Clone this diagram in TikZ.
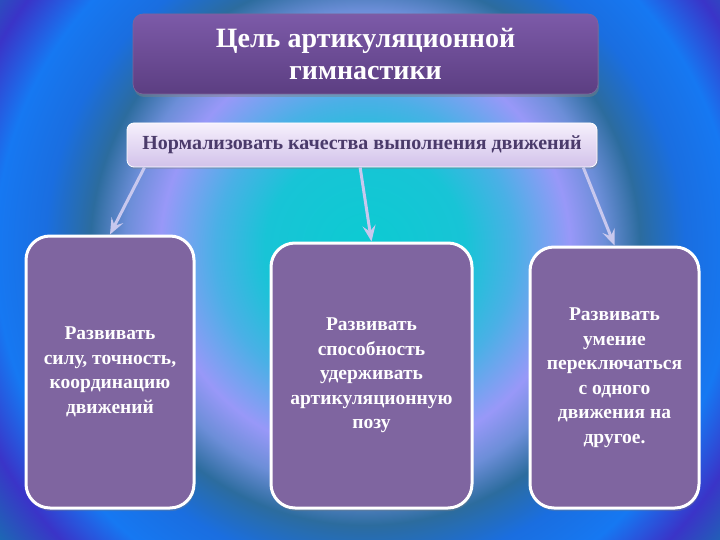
\documentclass[tikz,border=0pt]{standalone}
\usepackage{fontspec}
\setmainfont{Liberation Serif}
\usetikzlibrary{arrows.meta,shadows,calc}
\definecolor{bgA}{HTML}{0CCBD2}
\definecolor{bgB}{HTML}{18C4D6}
\definecolor{bgC}{HTML}{4AB0E6}
\definecolor{bgD}{HTML}{9898F8}
\definecolor{bgE}{HTML}{6C8ED8}
\definecolor{bgF}{HTML}{2C6C9E}
\definecolor{bgG}{HTML}{1A6EE0}
\definecolor{bgH}{HTML}{1678F2}
\definecolor{bgI}{HTML}{3A34C8}
\definecolor{bgJ}{HTML}{1A6CB2}
\definecolor{titleTop}{HTML}{7C5AA8}
\definecolor{titleBot}{HTML}{5C3E82}
\definecolor{normTop}{HTML}{F6F0FC}
\definecolor{normBot}{HTML}{D2C2EA}
\definecolor{normText}{HTML}{4B3B6B}
\definecolor{cardFill}{HTML}{7F65A0}
\definecolor{arrowCol}{HTML}{C8C8EE}
\pgfdeclareradialshading{bgshade}{\pgfpoint{0bp}{0bp}}{%
color(0bp)=(bgA); color(5bp)=(bgB); color(7.5bp)=(bgC); color(10.25bp)=(bgD);
color(12bp)=(bgE); color(13.75bp)=(bgF); color(16bp)=(bgG); color(18.5bp)=(bgH);
color(21bp)=(bgI); color(23.5bp)=(bgJ); color(50bp)=(bgJ)}
\tikzset{
  titlebox/.style={rounded corners=10pt, top color=titleTop, bottom color=titleBot,
    draw=titleBot!80!white, line width=0.6pt, text=white, align=center,
    font=\bfseries\fontsize{28}{32}\selectfont,
    drop shadow={opacity=0.45, shadow xshift=1pt, shadow yshift=-3pt}},
  normbox/.style={rounded corners=7pt, top color=normTop, bottom color=normBot,
    draw=white, line width=0.8pt, text=normText, align=center,
    font=\bfseries\fontsize{20}{22}\selectfont,
    drop shadow={opacity=0.35, shadow xshift=1pt, shadow yshift=-2pt}},
  card/.style={rounded corners=24pt, fill=cardFill, draw=white, line width=3pt,
    text=white, align=center, font=\bfseries\fontsize{19.5}{24.5}\selectfont,
    drop shadow={opacity=0.35, shadow xshift=1pt, shadow yshift=-3pt}},
  link/.style={draw=arrowCol, line width=3pt,
    -{Stealth[length=16pt,width=13pt,inset=6pt]}}
}
\begin{document}
\begin{tikzpicture}[x=1pt,y=-1pt]
\useasboundingbox (0,0) rectangle (720,540);
\begin{scope}
  \clip (0,0) rectangle (720,540);
  \shade[shading=bgshade] (365,250) circle (500);
\end{scope}
\node[titlebox, minimum width=465pt, minimum height=80pt] (title) at (365.5,54)
  {Цель артикуляционной\\гимнастики};
\node[normbox, minimum width=470pt, minimum height=44pt] (norm) at (362,145)
  {Нормализовать качества выполнения движений};
\node[card, minimum width=168pt, minimum height=272pt] (c1) at (110,372)
  {Развивать\\силу, точность,\\координацию\\движений};
\node[card, minimum width=201pt, minimum height=265pt] (c2) at (371.5,375.5)
  {Развивать\\способность\\удерживать\\артикуляционную\\позу};
\node[card, minimum width=169pt, minimum height=261pt] (c3) at (614.5,377.5)
  {Развивать\\умение\\переключаться\\с одного\\движения на\\другое.};
\coordinate (s1) at ($(norm.south west)!0.038!(norm.south east)$);
\coordinate (s2) at ($(norm.south west)!0.496!(norm.south east)$);
\coordinate (s3) at ($(norm.south west)!0.970!(norm.south east)$);
\draw[link] (s1) -- (c1.north);
\draw[link] (s2) -- (c2.north);
\draw[link] (s3) -- (c3.north);
\end{tikzpicture}
\end{document}
